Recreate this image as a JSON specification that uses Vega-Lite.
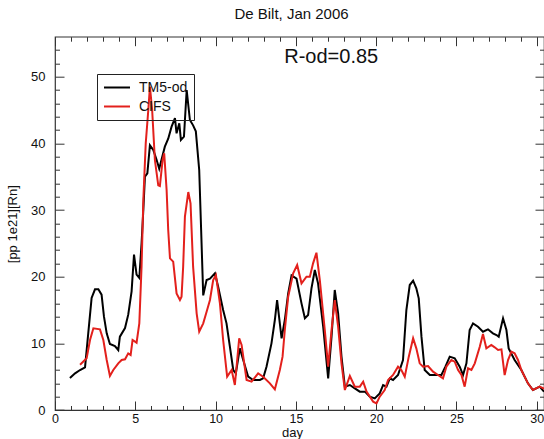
{
  "$schema": "https://vega.github.io/schema/vega-lite/v6.json",
  "width": 489,
  "height": 373.3,
  "autosize": {"type": "none"},
  "padding": {"left": 55, "top": 36.7, "right": 0, "bottom": 29},
  "background": "white",
  "title": {"text": "De Bilt, Jan 2006", "fontSize": 15, "fontWeight": "normal", "color": "#111", "anchor": "middle", "dx": -8, "offset": 14},
  "datasets": {
    "series": [
      {"day": 0.93, "value": 4.8, "model": "TM5-od"},
      {"day": 1.25, "value": 5.5, "model": "TM5-od"},
      {"day": 1.56, "value": 6.0, "model": "TM5-od"},
      {"day": 1.87, "value": 6.4, "model": "TM5-od"},
      {"day": 2.07, "value": 11.5, "model": "TM5-od"},
      {"day": 2.28, "value": 16.8, "model": "TM5-od"},
      {"day": 2.49, "value": 18.1, "model": "TM5-od"},
      {"day": 2.7, "value": 18.1, "model": "TM5-od"},
      {"day": 2.9, "value": 17.3, "model": "TM5-od"},
      {"day": 3.05, "value": 14, "model": "TM5-od"},
      {"day": 3.22, "value": 11.5, "model": "TM5-od"},
      {"day": 3.42, "value": 9.9, "model": "TM5-od"},
      {"day": 3.73, "value": 9.6, "model": "TM5-od"},
      {"day": 3.94, "value": 9.0, "model": "TM5-od"},
      {"day": 4.04, "value": 11, "model": "TM5-od"},
      {"day": 4.36, "value": 12.3, "model": "TM5-od"},
      {"day": 4.56, "value": 14.3, "model": "TM5-od"},
      {"day": 4.77, "value": 17.8, "model": "TM5-od"},
      {"day": 4.92, "value": 23.3, "model": "TM5-od"},
      {"day": 5.08, "value": 20.3, "model": "TM5-od"},
      {"day": 5.25, "value": 19.8, "model": "TM5-od"},
      {"day": 5.39, "value": 25, "model": "TM5-od"},
      {"day": 5.5, "value": 30, "model": "TM5-od"},
      {"day": 5.6, "value": 35, "model": "TM5-od"},
      {"day": 5.75, "value": 35.5, "model": "TM5-od"},
      {"day": 5.91, "value": 39.7, "model": "TM5-od"},
      {"day": 6.12, "value": 39, "model": "TM5-od"},
      {"day": 6.33, "value": 37.5, "model": "TM5-od"},
      {"day": 6.49, "value": 36.2, "model": "TM5-od"},
      {"day": 6.84, "value": 39.5, "model": "TM5-od"},
      {"day": 7.05, "value": 40.7, "model": "TM5-od"},
      {"day": 7.26, "value": 42.5, "model": "TM5-od"},
      {"day": 7.47, "value": 43.8, "model": "TM5-od"},
      {"day": 7.57, "value": 41.5, "model": "TM5-od"},
      {"day": 7.74, "value": 43, "model": "TM5-od"},
      {"day": 7.84, "value": 40.5, "model": "TM5-od"},
      {"day": 8.03, "value": 41, "model": "TM5-od"},
      {"day": 8.2, "value": 48, "model": "TM5-od"},
      {"day": 8.4, "value": 43.5, "model": "TM5-od"},
      {"day": 8.6, "value": 42.7, "model": "TM5-od"},
      {"day": 8.77, "value": 41.8, "model": "TM5-od"},
      {"day": 8.98, "value": 36, "model": "TM5-od"},
      {"day": 9.1, "value": 27, "model": "TM5-od"},
      {"day": 9.23, "value": 17.2, "model": "TM5-od"},
      {"day": 9.44, "value": 19.5, "model": "TM5-od"},
      {"day": 9.65, "value": 19.7, "model": "TM5-od"},
      {"day": 9.96, "value": 20.5, "model": "TM5-od"},
      {"day": 10.16, "value": 18.5, "model": "TM5-od"},
      {"day": 10.47, "value": 15, "model": "TM5-od"},
      {"day": 10.68, "value": 13, "model": "TM5-od"},
      {"day": 10.89, "value": 9.5, "model": "TM5-od"},
      {"day": 11.1, "value": 6.0, "model": "TM5-od"},
      {"day": 11.26, "value": 5.5, "model": "TM5-od"},
      {"day": 11.51, "value": 9.25, "model": "TM5-od"},
      {"day": 11.72, "value": 7.5, "model": "TM5-od"},
      {"day": 12.03, "value": 5.0, "model": "TM5-od"},
      {"day": 12.34, "value": 4.5, "model": "TM5-od"},
      {"day": 12.76, "value": 4.5, "model": "TM5-od"},
      {"day": 12.96, "value": 4.75, "model": "TM5-od"},
      {"day": 13.17, "value": 6.5, "model": "TM5-od"},
      {"day": 13.48, "value": 10, "model": "TM5-od"},
      {"day": 13.69, "value": 13.5, "model": "TM5-od"},
      {"day": 13.83, "value": 16.5, "model": "TM5-od"},
      {"day": 14.11, "value": 10.75, "model": "TM5-od"},
      {"day": 14.31, "value": 13.5, "model": "TM5-od"},
      {"day": 14.52, "value": 17.5, "model": "TM5-od"},
      {"day": 14.73, "value": 20.2, "model": "TM5-od"},
      {"day": 15.04, "value": 19.7, "model": "TM5-od"},
      {"day": 15.35, "value": 16, "model": "TM5-od"},
      {"day": 15.56, "value": 13.75, "model": "TM5-od"},
      {"day": 15.76, "value": 14.25, "model": "TM5-od"},
      {"day": 15.97, "value": 18.25, "model": "TM5-od"},
      {"day": 16.18, "value": 21, "model": "TM5-od"},
      {"day": 16.38, "value": 19, "model": "TM5-od"},
      {"day": 16.7, "value": 12.5, "model": "TM5-od"},
      {"day": 17.01, "value": 4.75, "model": "TM5-od"},
      {"day": 17.22, "value": 11, "model": "TM5-od"},
      {"day": 17.42, "value": 18, "model": "TM5-od"},
      {"day": 17.63, "value": 14.5, "model": "TM5-od"},
      {"day": 17.84, "value": 8, "model": "TM5-od"},
      {"day": 18.05, "value": 3.5, "model": "TM5-od"},
      {"day": 18.36, "value": 3.75, "model": "TM5-od"},
      {"day": 18.67, "value": 3.25, "model": "TM5-od"},
      {"day": 18.98, "value": 2.75, "model": "TM5-od"},
      {"day": 19.3, "value": 2.75, "model": "TM5-od"},
      {"day": 19.6, "value": 2.0, "model": "TM5-od"},
      {"day": 19.91, "value": 1.75, "model": "TM5-od"},
      {"day": 20.22, "value": 2.5, "model": "TM5-od"},
      {"day": 20.43, "value": 3.75, "model": "TM5-od"},
      {"day": 20.64, "value": 3.5, "model": "TM5-od"},
      {"day": 20.85, "value": 4.75, "model": "TM5-od"},
      {"day": 21.05, "value": 4.5, "model": "TM5-od"},
      {"day": 21.36, "value": 5.25, "model": "TM5-od"},
      {"day": 21.67, "value": 7.5, "model": "TM5-od"},
      {"day": 21.88, "value": 15, "model": "TM5-od"},
      {"day": 22.09, "value": 18.75, "model": "TM5-od"},
      {"day": 22.3, "value": 19.4, "model": "TM5-od"},
      {"day": 22.5, "value": 18.25, "model": "TM5-od"},
      {"day": 22.65, "value": 16.75, "model": "TM5-od"},
      {"day": 22.82, "value": 11, "model": "TM5-od"},
      {"day": 23.02, "value": 6, "model": "TM5-od"},
      {"day": 23.34, "value": 5.25, "model": "TM5-od"},
      {"day": 23.75, "value": 5.25, "model": "TM5-od"},
      {"day": 24.06, "value": 5.25, "model": "TM5-od"},
      {"day": 24.31, "value": 6.5, "model": "TM5-od"},
      {"day": 24.58, "value": 8, "model": "TM5-od"},
      {"day": 24.89, "value": 7.75, "model": "TM5-od"},
      {"day": 25.2, "value": 6.5, "model": "TM5-od"},
      {"day": 25.41, "value": 5.25, "model": "TM5-od"},
      {"day": 25.62, "value": 7, "model": "TM5-od"},
      {"day": 25.82, "value": 12, "model": "TM5-od"},
      {"day": 26.03, "value": 13, "model": "TM5-od"},
      {"day": 26.34, "value": 12.5, "model": "TM5-od"},
      {"day": 26.65, "value": 11.75, "model": "TM5-od"},
      {"day": 26.96, "value": 12.1, "model": "TM5-od"},
      {"day": 27.27, "value": 11.5, "model": "TM5-od"},
      {"day": 27.49, "value": 11.25, "model": "TM5-od"},
      {"day": 27.63, "value": 11, "model": "TM5-od"},
      {"day": 27.9, "value": 13.75, "model": "TM5-od"},
      {"day": 28.11, "value": 12, "model": "TM5-od"},
      {"day": 28.25, "value": 9.25, "model": "TM5-od"},
      {"day": 28.62, "value": 7.5, "model": "TM5-od"},
      {"day": 29.04, "value": 6, "model": "TM5-od"},
      {"day": 29.45, "value": 4, "model": "TM5-od"},
      {"day": 29.76, "value": 3, "model": "TM5-od"},
      {"day": 30.18, "value": 3.5, "model": "TM5-od"},
      {"day": 30.45, "value": 2.75, "model": "TM5-od"},
      {"day": 1.56, "value": 6.8, "model": "CIFS"},
      {"day": 1.97, "value": 7.75, "model": "CIFS"},
      {"day": 2.18, "value": 10.5, "model": "CIFS"},
      {"day": 2.39, "value": 12.25, "model": "CIFS"},
      {"day": 2.8, "value": 12.1, "model": "CIFS"},
      {"day": 3.01, "value": 10.5, "model": "CIFS"},
      {"day": 3.22, "value": 7.5, "model": "CIFS"},
      {"day": 3.42, "value": 5.1, "model": "CIFS"},
      {"day": 3.63, "value": 6, "model": "CIFS"},
      {"day": 3.94, "value": 7, "model": "CIFS"},
      {"day": 4.15, "value": 7.5, "model": "CIFS"},
      {"day": 4.36, "value": 7.6, "model": "CIFS"},
      {"day": 4.56, "value": 8.5, "model": "CIFS"},
      {"day": 4.71, "value": 8.25, "model": "CIFS"},
      {"day": 4.83, "value": 10.5, "model": "CIFS"},
      {"day": 5.08, "value": 10.1, "model": "CIFS"},
      {"day": 5.25, "value": 13, "model": "CIFS"},
      {"day": 5.39, "value": 21.5, "model": "CIFS"},
      {"day": 5.5, "value": 31.5, "model": "CIFS"},
      {"day": 5.65, "value": 40, "model": "CIFS"},
      {"day": 5.81, "value": 45, "model": "CIFS"},
      {"day": 5.91, "value": 48.5, "model": "CIFS"},
      {"day": 6.05, "value": 45, "model": "CIFS"},
      {"day": 6.22, "value": 37.5, "model": "CIFS"},
      {"day": 6.43, "value": 33.7, "model": "CIFS"},
      {"day": 6.53, "value": 33.6, "model": "CIFS"},
      {"day": 6.7, "value": 37.5, "model": "CIFS"},
      {"day": 6.8, "value": 38.5, "model": "CIFS"},
      {"day": 6.95, "value": 33, "model": "CIFS"},
      {"day": 7.05, "value": 27, "model": "CIFS"},
      {"day": 7.16, "value": 22.75, "model": "CIFS"},
      {"day": 7.36, "value": 22.25, "model": "CIFS"},
      {"day": 7.57, "value": 17.5, "model": "CIFS"},
      {"day": 7.78, "value": 16.5, "model": "CIFS"},
      {"day": 7.88, "value": 17, "model": "CIFS"},
      {"day": 7.98, "value": 21.5, "model": "CIFS"},
      {"day": 8.09, "value": 29, "model": "CIFS"},
      {"day": 8.3, "value": 32.7, "model": "CIFS"},
      {"day": 8.44, "value": 31, "model": "CIFS"},
      {"day": 8.6, "value": 21.5, "model": "CIFS"},
      {"day": 8.82, "value": 14.5, "model": "CIFS"},
      {"day": 8.98, "value": 11.75, "model": "CIFS"},
      {"day": 9.23, "value": 13, "model": "CIFS"},
      {"day": 9.44, "value": 14.75, "model": "CIFS"},
      {"day": 9.65, "value": 16.5, "model": "CIFS"},
      {"day": 9.85, "value": 19.5, "model": "CIFS"},
      {"day": 10.02, "value": 20.25, "model": "CIFS"},
      {"day": 10.27, "value": 16, "model": "CIFS"},
      {"day": 10.47, "value": 10.5, "model": "CIFS"},
      {"day": 10.72, "value": 5, "model": "CIFS"},
      {"day": 11.0, "value": 6, "model": "CIFS"},
      {"day": 11.2, "value": 3.75, "model": "CIFS"},
      {"day": 11.47, "value": 10.75, "model": "CIFS"},
      {"day": 11.62, "value": 9.75, "model": "CIFS"},
      {"day": 11.93, "value": 4.5, "model": "CIFS"},
      {"day": 12.24, "value": 4.25, "model": "CIFS"},
      {"day": 12.65, "value": 5.5, "model": "CIFS"},
      {"day": 12.96, "value": 5.0, "model": "CIFS"},
      {"day": 13.38, "value": 4.0, "model": "CIFS"},
      {"day": 13.69, "value": 3.1, "model": "CIFS"},
      {"day": 14.0, "value": 6, "model": "CIFS"},
      {"day": 14.17, "value": 8, "model": "CIFS"},
      {"day": 14.31, "value": 12, "model": "CIFS"},
      {"day": 14.52, "value": 17, "model": "CIFS"},
      {"day": 14.83, "value": 20.5, "model": "CIFS"},
      {"day": 15.08, "value": 21.75, "model": "CIFS"},
      {"day": 15.35, "value": 19, "model": "CIFS"},
      {"day": 15.66, "value": 20, "model": "CIFS"},
      {"day": 15.87, "value": 20, "model": "CIFS"},
      {"day": 16.07, "value": 22, "model": "CIFS"},
      {"day": 16.28, "value": 23.6, "model": "CIFS"},
      {"day": 16.49, "value": 19.5, "model": "CIFS"},
      {"day": 16.8, "value": 12, "model": "CIFS"},
      {"day": 17.01, "value": 6.5, "model": "CIFS"},
      {"day": 17.22, "value": 12, "model": "CIFS"},
      {"day": 17.42, "value": 16.5, "model": "CIFS"},
      {"day": 17.63, "value": 12.5, "model": "CIFS"},
      {"day": 17.84, "value": 7, "model": "CIFS"},
      {"day": 18.05, "value": 3, "model": "CIFS"},
      {"day": 18.36, "value": 5.1, "model": "CIFS"},
      {"day": 18.67, "value": 3.5, "model": "CIFS"},
      {"day": 18.98, "value": 3.5, "model": "CIFS"},
      {"day": 19.19, "value": 4.25, "model": "CIFS"},
      {"day": 19.4, "value": 2.75, "model": "CIFS"},
      {"day": 19.81, "value": 1.25, "model": "CIFS"},
      {"day": 20.02, "value": 1.0, "model": "CIFS"},
      {"day": 20.22, "value": 2.0, "model": "CIFS"},
      {"day": 20.53, "value": 3.0, "model": "CIFS"},
      {"day": 20.74, "value": 4.5, "model": "CIFS"},
      {"day": 21.05, "value": 5.25, "model": "CIFS"},
      {"day": 21.36, "value": 6.5, "model": "CIFS"},
      {"day": 21.57, "value": 6, "model": "CIFS"},
      {"day": 21.78, "value": 5, "model": "CIFS"},
      {"day": 22.03, "value": 8, "model": "CIFS"},
      {"day": 22.3, "value": 10.75, "model": "CIFS"},
      {"day": 22.5, "value": 9.25, "model": "CIFS"},
      {"day": 22.71, "value": 7, "model": "CIFS"},
      {"day": 22.92, "value": 6.5, "model": "CIFS"},
      {"day": 23.23, "value": 6.6, "model": "CIFS"},
      {"day": 23.54, "value": 5.75, "model": "CIFS"},
      {"day": 23.85, "value": 5.25, "model": "CIFS"},
      {"day": 24.16, "value": 4.75, "model": "CIFS"},
      {"day": 24.37, "value": 6.5, "model": "CIFS"},
      {"day": 24.68, "value": 7.5, "model": "CIFS"},
      {"day": 24.89, "value": 7.25, "model": "CIFS"},
      {"day": 25.1, "value": 6, "model": "CIFS"},
      {"day": 25.31, "value": 5.25, "model": "CIFS"},
      {"day": 25.51, "value": 3.5, "model": "CIFS"},
      {"day": 25.72, "value": 6.25, "model": "CIFS"},
      {"day": 25.93, "value": 6, "model": "CIFS"},
      {"day": 26.14, "value": 7, "model": "CIFS"},
      {"day": 26.45, "value": 9.5, "model": "CIFS"},
      {"day": 26.65, "value": 11.4, "model": "CIFS"},
      {"day": 26.86, "value": 9.25, "model": "CIFS"},
      {"day": 27.17, "value": 9.75, "model": "CIFS"},
      {"day": 27.38, "value": 9.4, "model": "CIFS"},
      {"day": 27.59, "value": 9.0, "model": "CIFS"},
      {"day": 27.8, "value": 9.1, "model": "CIFS"},
      {"day": 28.0, "value": 5.25, "model": "CIFS"},
      {"day": 28.21, "value": 7.5, "model": "CIFS"},
      {"day": 28.42, "value": 8.75, "model": "CIFS"},
      {"day": 28.62, "value": 8.5, "model": "CIFS"},
      {"day": 28.83, "value": 7.5, "model": "CIFS"},
      {"day": 29.04, "value": 6, "model": "CIFS"},
      {"day": 29.45, "value": 4, "model": "CIFS"},
      {"day": 29.76, "value": 3, "model": "CIFS"},
      {"day": 30.18, "value": 3.5, "model": "CIFS"},
      {"day": 30.45, "value": 3.2, "model": "CIFS"}
    ],
    "note": [
      {"day": 17.2, "value": 52.0, "label": "R-od=0.85"}
    ]
  },
  "layer": [
    {
      "data": {"name": "series"},
      "mark": {"type": "line", "strokeWidth": 2, "clip": true},
      "encoding": {
        "x": {"field": "day", "type": "quantitative",
          "scale": {"domain": [0, 30.45], "nice": false, "zero": false},
          "axis": {"orient": "bottom", "values": [0, 5, 10, 15, 20, 25, 30], "tickSize": -9, "labelPadding": 11, "labelFontSize": 12.5, "title": "day", "titleX": 237, "titleY": 22, "titleBaseline": "middle", "titleAlign": "center", "labelFlush": false}},
        "y": {"field": "value", "type": "quantitative",
          "scale": {"domain": [0, 56], "nice": false, "zero": false},
          "axis": {"orient": "left", "values": [0, 10, 20, 30, 40, 50], "tickSize": -9, "labelPadding": 19, "title": "[pp 1e21][Rn]", "titleX": -43, "titleY": 187, "titleAngle": -90, "titleBaseline": "middle", "titleAlign": "center"}},
        "color": {"field": "model", "type": "nominal",
          "scale": {"domain": ["TM5-od", "CIFS"], "range": ["#000000", "#e3201c"]},
          "legend": {"orient": "none", "legendX": 42, "legendY": 37.3, "title": null, "strokeColor": "#222", "fillColor": "transparent", "padding": 6, "symbolType": "M-1,0H3", "symbolSize": 169, "symbolStrokeWidth": 2, "labelFontSize": 14, "labelOffset": 21, "rowPadding": 4, "labelColor": "#111"}},
        "order": {"field": "day", "type": "quantitative"}
      }
    },
    {
      "data": {"name": "note"},
      "mark": {"type": "text", "fontSize": 20, "align": "center", "baseline": "alphabetic", "color": "#111"},
      "encoding": {
        "text": {"field": "label"},
        "x": {"field": "day", "type": "quantitative",
          "scale": {"domain": [0, 30.45], "nice": false, "zero": false},
          "axis": {"orient": "bottom", "values": [1,2,3,4,6,7,8,9,11,12,13,14,16,17,18,19,21,22,23,24,26,27,28,29], "tickSize": -4.5, "labels": false, "title": null}},
        "y": {"field": "value", "type": "quantitative",
          "scale": {"domain": [0, 56], "nice": false, "zero": false},
          "axis": {"orient": "left", "values": [2,4,6,8,12,14,16,18,22,24,26,28,32,34,36,38,42,44,46,48,52,54], "tickSize": -4.5, "labels": false, "title": null}}
      }
    },
    {
      "data": {"name": "note"},
      "mark": {"type": "text", "opacity": 0},
      "encoding": {
        "text": {"field": "label"},
        "x": {"field": "day", "type": "quantitative",
          "scale": {"domain": [0, 30.45], "nice": false, "zero": false},
          "axis": {"orient": "top", "values": [0, 5, 10, 15, 20, 25, 30], "tickSize": -9, "labels": false, "title": null}},
        "y": {"field": "value", "type": "quantitative",
          "scale": {"domain": [0, 56], "nice": false, "zero": false},
          "axis": {"orient": "right", "values": [0, 10, 20, 30, 40, 50], "tickSize": -9, "labels": false, "title": null}}
      }
    },
    {
      "data": {"name": "note"},
      "mark": {"type": "text", "opacity": 0},
      "encoding": {
        "text": {"field": "label"},
        "x": {"field": "day", "type": "quantitative",
          "scale": {"domain": [0, 30.45], "nice": false, "zero": false},
          "axis": {"orient": "top", "values": [1,2,3,4,6,7,8,9,11,12,13,14,16,17,18,19,21,22,23,24,26,27,28,29], "tickSize": -4.5, "labels": false, "title": null}},
        "y": {"field": "value", "type": "quantitative",
          "scale": {"domain": [0, 56], "nice": false, "zero": false},
          "axis": {"orient": "right", "values": [2,4,6,8,12,14,16,18,22,24,26,28,32,34,36,38,42,44,46,48,52,54], "tickSize": -4.5, "labels": false, "title": null}}
      }
    }
  ],
  "resolve": {"axis": {"x": "independent", "y": "independent"}},
  "config": {
    "font": "Liberation Sans",
    "view": {"stroke": "#333", "strokeWidth": 1.2},
    "axis": {"domain": false, "grid": false, "tickColor": "#333", "tickWidth": 1, "labelColor": "#111", "titleColor": "#111", "labelFontSize": 13, "titleFontSize": 13, "titleFontWeight": "normal"}
  }
}
